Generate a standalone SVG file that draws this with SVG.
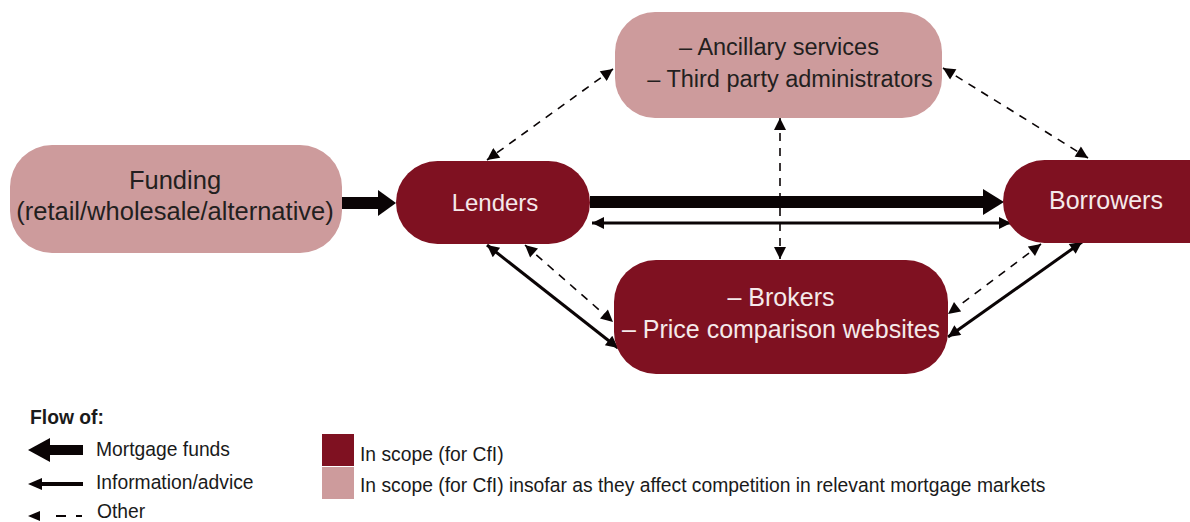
<svg xmlns="http://www.w3.org/2000/svg" width="1190" height="522" viewBox="0 0 1190 522">
<defs>
<style>
.dark{fill:#7F1121;}
.light{fill:#CD9B9C;}
.t{font-family:"Liberation Sans",Arial,sans-serif;text-anchor:middle;}
.tw{fill:#F5E9EA;font-size:25px;}
.tb{fill:#231F20;font-size:25.5px;}
.lg{font-family:"Liberation Sans",Arial,sans-serif;fill:#1a1a1a;font-size:19.3px;}
.thick{stroke:#0a0405;stroke-width:12;fill:none;}
.thin{stroke:#0a0405;stroke-width:3;fill:none;}
.dash{stroke:#0a0405;stroke-width:1.6;stroke-dasharray:8,7;fill:none;}
</style>
<marker id="sm" viewBox="0 0 10 10" refX="10" refY="5" markerUnits="userSpaceOnUse" markerWidth="14" markerHeight="12" orient="auto-start-reverse"><path d="M0,0 L10,5 L0,10 z" fill="#0a0405"/></marker>
<marker id="ds" viewBox="0 0 10 10" refX="10" refY="5" markerUnits="userSpaceOnUse" markerWidth="13" markerHeight="12" orient="auto-start-reverse"><path d="M0,0 L10,5 L0,10 z" fill="#0a0405"/></marker>
</defs>
<rect width="1190" height="522" fill="#fff"/>

<g id="connectors">
<line class="thick" x1="342" y1="203" x2="380" y2="203"/>
<path d="M378,190 L396,203 L378,216 z" fill="#0a0405"/>
<line class="thick" x1="590" y1="202" x2="985" y2="202"/>
<path d="M983,189 L1004,202 L983,215 z" fill="#0a0405"/>
<line class="thin" x1="592" y1="223" x2="1011" y2="223" marker-start="url(#sm)" marker-end="url(#sm)"/>
<line class="dash" x1="780" y1="118" x2="780" y2="259" marker-start="url(#ds)" marker-end="url(#ds)"/>
<line class="dash" x1="613" y1="69" x2="487" y2="160" marker-start="url(#ds)" marker-end="url(#ds)"/>
<line class="dash" x1="943" y1="68" x2="1088" y2="158" marker-start="url(#ds)" marker-end="url(#ds)"/>
<line class="thin" x1="487" y1="245" x2="618" y2="348" marker-start="url(#sm)" marker-end="url(#sm)"/>
<line class="dash" x1="525" y1="245" x2="613" y2="322" marker-start="url(#ds)" marker-end="url(#ds)"/>
<line class="dash" x1="1041" y1="244" x2="948" y2="314" marker-start="url(#ds)" marker-end="url(#ds)"/>
<line class="thin" x1="1082" y1="242" x2="948" y2="337" marker-start="url(#sm)" marker-end="url(#sm)"/>
</g>

<g id="funding">
<rect class="light" x="10" y="145" width="332" height="108" rx="42"/>
<text class="t tb" x="175" y="189">Funding</text>
<text class="t tb" x="175" y="220">(retail/wholesale/alternative)</text>
</g>
<g id="lenders">
<rect class="dark" x="396" y="161" width="194" height="83" rx="41.5"/>
<text class="t tw" x="495" y="211" style="font-size:24px">Lenders</text>
</g>
<g id="borrowers">
<rect class="dark" x="1003" y="160" width="230" height="83" rx="41.5"/>
<text class="t tw" x="1106" y="209">Borrowers</text>
</g>
<g id="ancillary">
<rect class="light" x="615" y="12" width="327" height="106" rx="40"/>
<text class="t tb" x="779" y="55" style="font-size:23.5px">– Ancillary services</text>
<text class="t tb" x="790" y="87" style="font-size:23.5px">– Third party administrators</text>
</g>
<g id="brokers">
<rect class="dark" x="614" y="260" width="334" height="114" rx="42"/>
<text class="t tw" x="781" y="306">– Brokers</text>
<text class="t tw" x="781" y="338">– Price comparison websites</text>
</g>

<g id="legend">
<text class="lg" x="30" y="424" font-weight="bold">Flow of:</text>
<rect x="50" y="445" width="33" height="10" fill="#0a0405"/>
<path d="M50,438 L28,450 L50,462 z" fill="#0a0405"/>
<text class="lg" x="96" y="456">Mortgage funds</text>
<line x1="40" y1="484" x2="83" y2="484" stroke="#0a0405" stroke-width="4"/>
<path d="M42,478 L28,484 L42,490 z" fill="#0a0405"/>
<text class="lg" x="96" y="489">Information/advice</text>
<path d="M40,511 L28,516 L40,521 z" fill="#0a0405"/>
<line x1="56" y1="516" x2="66" y2="516" stroke="#0a0405" stroke-width="2"/>
<line x1="76" y1="516" x2="82" y2="516" stroke="#0a0405" stroke-width="2"/>
<text class="lg" x="97" y="518">Other</text>
<rect class="dark" x="322" y="434" width="32" height="32"/>
<rect class="light" x="322" y="467" width="32" height="32"/>
<text class="lg" x="360" y="461">In scope (for CfI)</text>
<text class="lg" x="360" y="492">In scope (for CfI) insofar as they affect competition in relevant mortgage markets</text>
</g>
</svg>
